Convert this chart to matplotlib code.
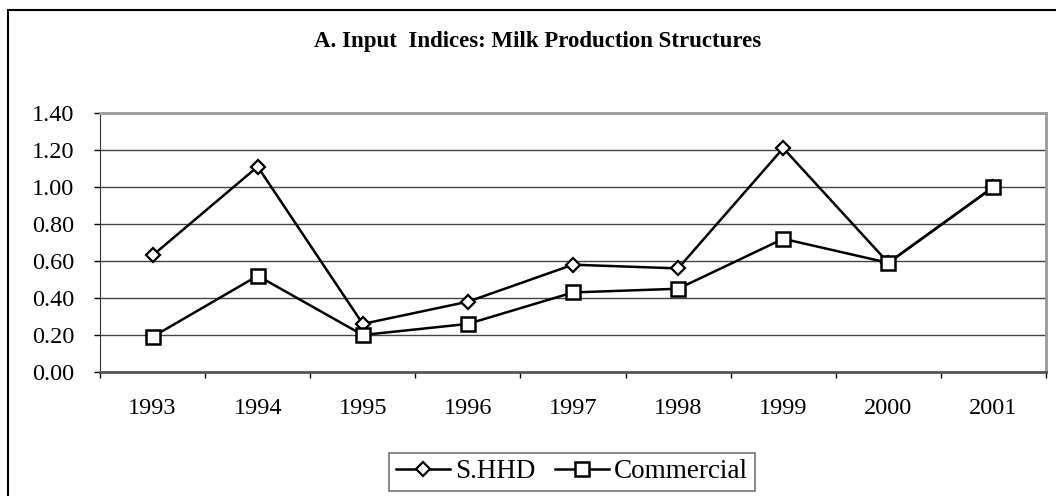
import matplotlib
matplotlib.use("Agg")
import matplotlib.pyplot as plt
from matplotlib.patches import Rectangle

years = ["1993", "1994", "1995", "1996", "1997", "1998", "1999", "2000", "2001"]
shhd = [0.63, 1.11, 0.26, 0.38, 0.58, 0.56, 1.21, 0.59, 1.00]
commercial = [0.19, 0.52, 0.20, 0.26, 0.43, 0.45, 0.72, 0.59, 1.00]
yticks = [0.0, 0.2, 0.4, 0.6, 0.8, 1.0, 1.2, 1.4]

plt.rcParams['font.family'] = ['Liberation Serif', 'DejaVu Serif']

W, H = 1056, 496
fig = plt.figure(figsize=(W / 100, H / 100), dpi=100)
ax = fig.add_axes([100 / W, 1 - 372 / H, (1046 - 100) / W, (372 - 113) / H])

x = list(range(len(years)))
ax.plot(x, shhd, color='black', lw=1.8, marker='D', markersize=7.5,
        markerfacecolor='white', markeredgecolor='black', markeredgewidth=1.6,
        label='S.HHD', zorder=3)
ax.plot(x, commercial, color='black', lw=1.8, marker='s', markersize=10.5,
        markerfacecolor='white', markeredgecolor='black', markeredgewidth=1.8,
        label='Commercial', zorder=3)

ax.set_xlim(-0.5, len(years) - 0.5)
ax.set_ylim(0, 1.4)
ax.set_yticks(yticks)
ax.set_yticklabels([f"{v:.2f}" for v in yticks], fontsize=17.5)
ax.set_xticks(x)
ax.set_xticklabels(years, fontsize=17.5)
ax.tick_params(axis='x', which='major', length=0, pad=19)
ax.set_xticks([i - 0.5 for i in range(len(years) + 1)], minor=True)
ax.tick_params(axis='x', which='minor', length=4.5, width=1, direction='out', color='black')
ax.tick_params(axis='y', length=4.5, width=1, direction='out', pad=14, color='black')
ax.grid(axis='y', color='#444444', lw=1)
ax.set_axisbelow(True)
for s in ['top', 'right']:
    ax.spines[s].set_color('#999999')
    ax.spines[s].set_linewidth(2)
ax.spines['left'].set_color('#333333')
ax.spines['bottom'].set_color('#555555')
ax.spines['bottom'].set_linewidth(2)

fig.text(538 / W, 1 - 41 / H, "A. Input  Indices: Milk Production Structures",
         ha='center', va='center', fontsize=16.5, fontweight='bold')

leg = ax.legend(loc='center', bbox_to_anchor=(572 / W, 1 - 472 / H),
                bbox_transform=fig.transFigure, ncol=2, fontsize=19.5,
                frameon=True, fancybox=False, edgecolor='#555555',
                handlelength=2.0, handletextpad=0.2, columnspacing=0.7,
                borderpad=0.25, borderaxespad=0)
leg.get_frame().set_linewidth(1.2)

fig.patches.append(Rectangle((8 / W, -0.1), 1.2, 1 - 10 / H + 0.1,
                             transform=fig.transFigure, fill=False,
                             edgecolor='black', lw=1.5))

fig.savefig("out.png", dpi=100)
